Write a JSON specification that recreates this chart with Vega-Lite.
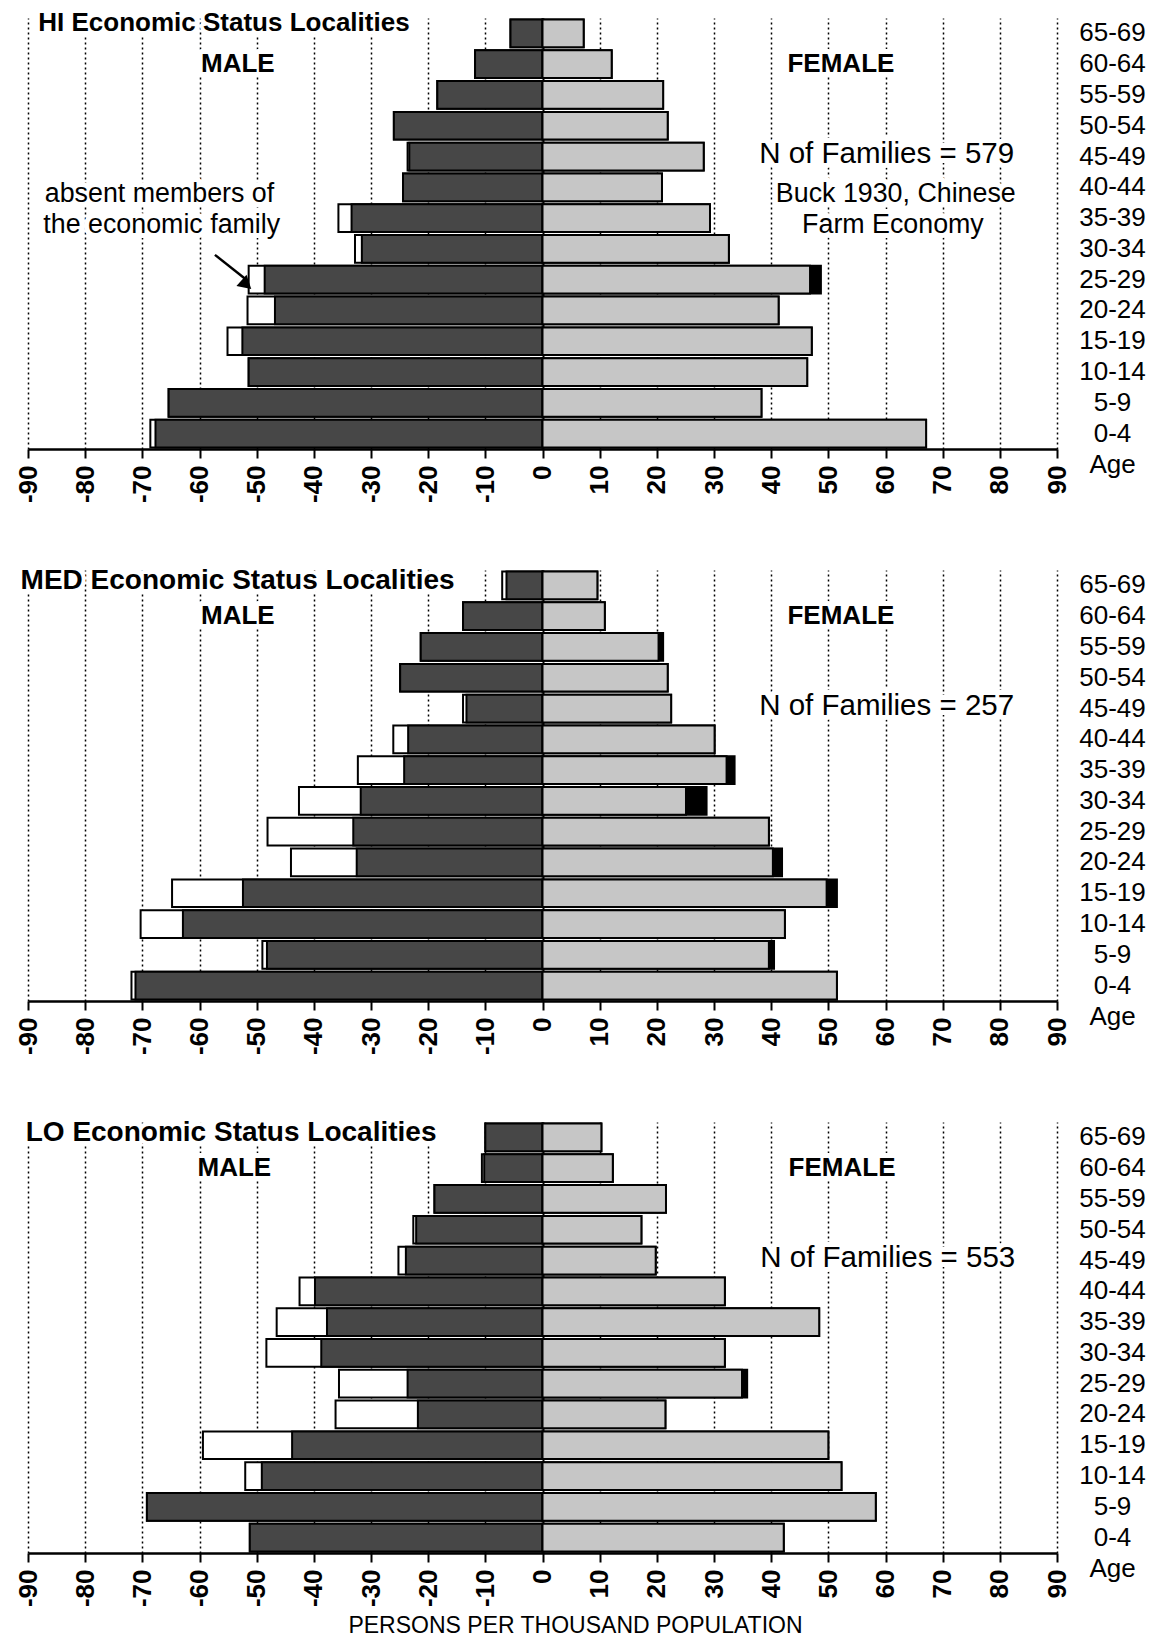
{
  "$schema": "https://vega.github.io/schema/vega-lite/v6.json",
  "padding": {"left": 15, "top": 10, "right": 0, "bottom": 0},
  "background": "white",
  "config": {"view": {"stroke": null}},
  "datasets": {
    "bars": [
      {"p": "HI", "age": "65-69", "mt": -5.6, "mp": -5.6, "fp": 7.2, "ft": 7.2},
      {"p": "HI", "age": "60-64", "mt": -11.8, "mp": -11.8, "fp": 12.1, "ft": 12.1},
      {"p": "HI", "age": "55-59", "mt": -18.4, "mp": -18.4, "fp": 21.1, "ft": 21.1},
      {"p": "HI", "age": "50-54", "mt": -26.0, "mp": -26.0, "fp": 21.9, "ft": 21.9},
      {"p": "HI", "age": "45-49", "mt": -23.6, "mp": -23.3, "fp": 28.2, "ft": 28.2},
      {"p": "HI", "age": "40-44", "mt": -24.4, "mp": -24.4, "fp": 20.9, "ft": 20.9},
      {"p": "HI", "age": "35-39", "mt": -35.7, "mp": -33.4, "fp": 29.3, "ft": 29.3},
      {"p": "HI", "age": "30-34", "mt": -32.8, "mp": -31.6, "fp": 32.6, "ft": 32.6},
      {"p": "HI", "age": "25-29", "mt": -51.4, "mp": -48.6, "fp": 46.8, "ft": 48.7},
      {"p": "HI", "age": "20-24", "mt": -51.6, "mp": -46.8, "fp": 41.3, "ft": 41.3},
      {"p": "HI", "age": "15-19", "mt": -55.1, "mp": -52.5, "fp": 47.1, "ft": 47.1},
      {"p": "HI", "age": "10-14", "mt": -51.4, "mp": -51.4, "fp": 46.3, "ft": 46.3},
      {"p": "HI", "age": "5-9", "mt": -65.4, "mp": -65.4, "fp": 38.3, "ft": 38.3},
      {"p": "HI", "age": "0-4", "mt": -68.6, "mp": -67.7, "fp": 67.1, "ft": 67.1},
      {"p": "MED", "age": "65-69", "mt": -7.05, "mp": -6.3, "fp": 9.6, "ft": 9.6},
      {"p": "MED", "age": "60-64", "mt": -13.9, "mp": -13.9, "fp": 10.9, "ft": 10.9},
      {"p": "MED", "age": "55-59", "mt": -21.3, "mp": -21.3, "fp": 20.3, "ft": 21.1},
      {"p": "MED", "age": "50-54", "mt": -24.9, "mp": -24.9, "fp": 21.9, "ft": 21.9},
      {"p": "MED", "age": "45-49", "mt": -13.9, "mp": -13.3, "fp": 22.5, "ft": 22.5},
      {"p": "MED", "age": "40-44", "mt": -26.1, "mp": -23.5, "fp": 30.1, "ft": 30.1},
      {"p": "MED", "age": "35-39", "mt": -32.3, "mp": -24.2, "fp": 32.2, "ft": 33.6},
      {"p": "MED", "age": "30-34", "mt": -42.6, "mp": -31.8, "fp": 25.1, "ft": 28.7},
      {"p": "MED", "age": "25-29", "mt": -48.1, "mp": -33.1, "fp": 39.6, "ft": 39.6},
      {"p": "MED", "age": "20-24", "mt": -44.0, "mp": -32.5, "fp": 40.3, "ft": 41.9},
      {"p": "MED", "age": "15-19", "mt": -64.8, "mp": -52.4, "fp": 49.7, "ft": 51.5},
      {"p": "MED", "age": "10-14", "mt": -70.3, "mp": -62.9, "fp": 42.4, "ft": 42.4},
      {"p": "MED", "age": "5-9", "mt": -49.0, "mp": -48.2, "fp": 39.6, "ft": 40.5},
      {"p": "MED", "age": "0-4", "mt": -71.9, "mp": -71.2, "fp": 51.5, "ft": 51.5},
      {"p": "LO", "age": "65-69", "mt": -10.0, "mp": -10.0, "fp": 10.3, "ft": 10.3},
      {"p": "LO", "age": "60-64", "mt": -10.6, "mp": -10.2, "fp": 12.3, "ft": 12.3},
      {"p": "LO", "age": "55-59", "mt": -18.9, "mp": -18.9, "fp": 21.6, "ft": 21.6},
      {"p": "LO", "age": "50-54", "mt": -22.6, "mp": -22.1, "fp": 17.3, "ft": 17.3},
      {"p": "LO", "age": "45-49", "mt": -25.2, "mp": -23.9, "fp": 19.8, "ft": 19.8},
      {"p": "LO", "age": "40-44", "mt": -42.5, "mp": -39.8, "fp": 31.9, "ft": 31.9},
      {"p": "LO", "age": "35-39", "mt": -46.5, "mp": -37.7, "fp": 48.4, "ft": 48.4},
      {"p": "LO", "age": "30-34", "mt": -48.3, "mp": -38.7, "fp": 31.9, "ft": 31.9},
      {"p": "LO", "age": "25-29", "mt": -35.6, "mp": -23.6, "fp": 34.9, "ft": 35.8},
      {"p": "LO", "age": "20-24", "mt": -36.2, "mp": -21.8, "fp": 21.5, "ft": 21.5},
      {"p": "LO", "age": "15-19", "mt": -59.4, "mp": -43.8, "fp": 50.0, "ft": 50.0},
      {"p": "LO", "age": "10-14", "mt": -52.0, "mp": -49.1, "fp": 52.3, "ft": 52.3},
      {"p": "LO", "age": "5-9", "mt": -69.2, "mp": -69.2, "fp": 58.3, "ft": 58.3},
      {"p": "LO", "age": "0-4", "mt": -51.2, "mp": -51.2, "fp": 42.2, "ft": 42.2}
    ],
    "notes": [
      {"p": "HI", "k": "title", "age": "65-69", "v": -88.2, "label": "HI Economic Status Localities"},
      {"p": "HI", "k": "sex", "age": "60-64", "v": -53.3, "label": "MALE"},
      {"p": "HI", "k": "sex", "age": "60-64", "v": 52.2, "label": "FEMALE"},
      {"p": "HI", "k": "n", "age": "45-49", "v": 60.2, "label": "N of Families = 579"},
      {"p": "HI", "k": "note", "age": "40-44", "v": 61.8, "label": "Buck 1930, Chinese"},
      {"p": "HI", "k": "note", "age": "35-39", "v": 61.3, "label": "Farm Economy"},
      {"p": "HI", "k": "note", "age": "40-44", "v": -67.0, "label": "absent members of"},
      {"p": "HI", "k": "note", "age": "35-39", "v": -66.6, "label": "the economic family"},
      {"p": "HI", "k": "arrow", "age": "30-34", "v": -57.3, "age2": "25-29", "v2": -51.8},
      {"p": "MED", "k": "title", "age": "65-69", "v": -91.3, "label": "MED Economic Status Localities"},
      {"p": "MED", "k": "sex", "age": "60-64", "v": -53.3, "label": "MALE"},
      {"p": "MED", "k": "sex", "age": "60-64", "v": 52.2, "label": "FEMALE"},
      {"p": "MED", "k": "n", "age": "45-49", "v": 60.2, "label": "N of Families = 257"},
      {"p": "LO", "k": "title", "age": "65-69", "v": -90.4, "label": "LO Economic Status Localities"},
      {"p": "LO", "k": "sex", "age": "60-64", "v": -53.9, "label": "MALE"},
      {"p": "LO", "k": "sex", "age": "60-64", "v": 52.4, "label": "FEMALE"},
      {"p": "LO", "k": "n", "age": "45-49", "v": 60.4, "label": "N of Families = 553"}
    ]
  },
  "vconcat": [
    {
      "width": 1029,
      "height": 431,
      "layer": [
        {
          "data": {"name": "bars"},
          "transform": [{"filter": "datum.p === 'HI'"}, {"fold": ["mt", "mp", "ft", "fp"], "as": ["part", "v"]}],
          "encoding": {
            "x": {"field": "v", "type": "quantitative", "title": null, "scale": {"domain": [-90, 90], "nice": false},
              "axis": {"values": [-90, -80, -70, -60, -50, -40, -30, -20, -10, 0, 10, 20, 30, 40, 50, 60, 70, 80, 90], "labelExpr": "datum.value < 0 ? '-' + abs(datum.value) : '' + datum.value", "labelAngle": -90, "labelFont": "Liberation Sans", "labelFontSize": 26, "labelFontWeight": "bold", "labelColor": "black", "labelPadding": 7, "labelFlush": false, "labelOverlap": false, "labelBound": false, "tickSize": 9, "tickWidth": 2, "tickColor": "black", "domainColor": "black", "domainWidth": 2.5, "grid": true, "gridColor": "black", "gridOpacity": 1, "gridDash": {"condition": {"test": "datum.value === 0", "value": [1, 0]}, "value": [2, 3]}, "gridWidth": {"condition": {"test": "datum.value === 0", "value": 2}, "value": 1.5}, "title": null}},
            "x2": {"datum": 0},
            "y": {"field": "age", "type": "nominal", "title": "Age", "scale": {"domain": ["65-69", "60-64", "55-59", "50-54", "45-49", "40-44", "35-39", "30-34", "25-29", "20-24", "15-19", "10-14", "5-9", "0-4"], "paddingInner": 0.1, "paddingOuter": 0.05},
              "axis": {"orient": "right", "domain": false, "ticks": false, "tickSize": 0, "labelAlign": "center", "labelPadding": 55, "labelFont": "Liberation Sans", "labelFontSize": 26, "labelColor": "black", "grid": false, "title": "Age", "titleAngle": 0, "titleX": 55, "titleY": 446, "titleAlign": "center", "titleBaseline": "middle", "titleFont": "Liberation Sans", "titleFontSize": 26, "titleFontWeight": "normal", "titleColor": "black"}}
          },
          "layer": [
            {"transform": [{"filter": "datum.part === 'mt'"}], "mark": {"type": "bar", "fill": "white", "stroke": "black", "strokeWidth": 2}},
            {"transform": [{"filter": "datum.part === 'mp'"}], "mark": {"type": "bar", "fill": "#474747", "stroke": "black", "strokeWidth": 2}},
            {"transform": [{"filter": "datum.part === 'ft'"}], "mark": {"type": "bar", "fill": "black", "stroke": "black", "strokeWidth": 2}},
            {"transform": [{"filter": "datum.part === 'fp'"}], "mark": {"type": "bar", "fill": "#c6c6c6", "stroke": "black", "strokeWidth": 2}}
          ]
        },
        {
          "data": {"name": "notes"},
          "transform": [{"filter": "datum.p === 'HI'"}],
          "encoding": {
            "x": {"field": "v", "type": "quantitative", "title": null, "scale": {"domain": [-90, 90], "nice": false}},
            "y": {"field": "age", "type": "nominal", "title": "Age", "scale": {"domain": ["65-69", "60-64", "55-59", "50-54", "45-49", "40-44", "35-39", "30-34", "25-29", "20-24", "15-19", "10-14", "5-9", "0-4"], "paddingInner": 0.1, "paddingOuter": 0.05}}
          },
          "layer": [
            {"transform": [{"filter": "datum.k === 'title'"}], "mark": {"type": "text", "align": "left", "baseline": "middle", "dy": -10, "font": "Liberation Sans", "fontSize": 26, "fontWeight": "bold", "fill": "white", "stroke": "white", "strokeWidth": 8, "strokeJoin": "round"}, "encoding": {"text": {"field": "label"}}},
            {"transform": [{"filter": "datum.k === 'title'"}], "mark": {"type": "text", "align": "left", "baseline": "middle", "dy": -10, "font": "Liberation Sans", "fontSize": 26, "fontWeight": "bold", "fill": "black"}, "encoding": {"text": {"field": "label"}}},
            {"transform": [{"filter": "datum.k === 'sex'"}], "mark": {"type": "text", "align": "center", "baseline": "middle", "font": "Liberation Sans", "fontSize": 26, "fontWeight": "bold", "fill": "white", "stroke": "white", "strokeWidth": 10, "strokeJoin": "round"}, "encoding": {"text": {"field": "label"}}},
            {"transform": [{"filter": "datum.k === 'sex'"}], "mark": {"type": "text", "align": "center", "baseline": "middle", "font": "Liberation Sans", "fontSize": 26, "fontWeight": "bold", "fill": "black"}, "encoding": {"text": {"field": "label"}}},
            {"transform": [{"filter": "datum.k === 'n'"}], "mark": {"type": "text", "align": "center", "baseline": "middle", "dy": -3, "font": "Liberation Sans", "fontSize": 29.5, "fill": "white", "stroke": "white", "strokeWidth": 10, "strokeJoin": "round"}, "encoding": {"text": {"field": "label"}}},
            {"transform": [{"filter": "datum.k === 'n'"}], "mark": {"type": "text", "align": "center", "baseline": "middle", "dy": -3, "font": "Liberation Sans", "fontSize": 29.5, "fill": "black"}, "encoding": {"text": {"field": "label"}}},
            {"transform": [{"filter": "datum.k === 'note'"}], "mark": {"type": "text", "align": "center", "baseline": "middle", "dy": 7, "font": "Liberation Sans", "fontSize": 26.8, "fill": "white", "stroke": "white", "strokeWidth": 10, "strokeJoin": "round"}, "encoding": {"text": {"field": "label"}}},
            {"transform": [{"filter": "datum.k === 'note'"}], "mark": {"type": "text", "align": "center", "baseline": "middle", "dy": 7, "font": "Liberation Sans", "fontSize": 26.8, "fill": "black"}, "encoding": {"text": {"field": "label"}}},
            {"transform": [{"filter": "datum.k === 'arrow'"}], "mark": {"type": "rule", "color": "black", "strokeWidth": 2.5, "yOffset": 6}, "encoding": {"x2": {"field": "v2"}, "y2": {"field": "age2"}}},
            {"transform": [{"filter": "datum.k === 'arrow'"}], "mark": {"type": "point", "shape": "triangle-up", "angle": 132, "size": 230, "filled": true, "color": "black", "opacity": 1, "yOffset": 5},
              "encoding": {"x": {"field": "v2", "type": "quantitative", "title": null, "scale": {"domain": [-90, 90], "nice": false}}, "y": {"field": "age2", "type": "nominal", "title": "Age", "scale": {"domain": ["65-69", "60-64", "55-59", "50-54", "45-49", "40-44", "35-39", "30-34", "25-29", "20-24", "15-19", "10-14", "5-9", "0-4"], "paddingInner": 0.1, "paddingOuter": 0.05}}}}
          ]
        }
      ]
    },
    {
      "width": 1029,
      "height": 431,
      "layer": [
        {
          "data": {"name": "bars"},
          "transform": [{"filter": "datum.p === 'MED'"}, {"fold": ["mt", "mp", "ft", "fp"], "as": ["part", "v"]}],
          "encoding": {
            "x": {"field": "v", "type": "quantitative", "title": null, "scale": {"domain": [-90, 90], "nice": false},
              "axis": {"values": [-90, -80, -70, -60, -50, -40, -30, -20, -10, 0, 10, 20, 30, 40, 50, 60, 70, 80, 90], "labelExpr": "datum.value < 0 ? '-' + abs(datum.value) : '' + datum.value", "labelAngle": -90, "labelFont": "Liberation Sans", "labelFontSize": 26, "labelFontWeight": "bold", "labelColor": "black", "labelPadding": 7, "labelFlush": false, "labelOverlap": false, "labelBound": false, "tickSize": 9, "tickWidth": 2, "tickColor": "black", "domainColor": "black", "domainWidth": 2.5, "grid": true, "gridColor": "black", "gridOpacity": 1, "gridDash": {"condition": {"test": "datum.value === 0", "value": [1, 0]}, "value": [2, 3]}, "gridWidth": {"condition": {"test": "datum.value === 0", "value": 2}, "value": 1.5}, "title": null}},
            "x2": {"datum": 0},
            "y": {"field": "age", "type": "nominal", "title": "Age", "scale": {"domain": ["65-69", "60-64", "55-59", "50-54", "45-49", "40-44", "35-39", "30-34", "25-29", "20-24", "15-19", "10-14", "5-9", "0-4"], "paddingInner": 0.1, "paddingOuter": 0.05},
              "axis": {"orient": "right", "domain": false, "ticks": false, "tickSize": 0, "labelAlign": "center", "labelPadding": 55, "labelFont": "Liberation Sans", "labelFontSize": 26, "labelColor": "black", "grid": false, "title": "Age", "titleAngle": 0, "titleX": 55, "titleY": 446, "titleAlign": "center", "titleBaseline": "middle", "titleFont": "Liberation Sans", "titleFontSize": 26, "titleFontWeight": "normal", "titleColor": "black"}}
          },
          "layer": [
            {"transform": [{"filter": "datum.part === 'mt'"}], "mark": {"type": "bar", "fill": "white", "stroke": "black", "strokeWidth": 2}},
            {"transform": [{"filter": "datum.part === 'mp'"}], "mark": {"type": "bar", "fill": "#474747", "stroke": "black", "strokeWidth": 2}},
            {"transform": [{"filter": "datum.part === 'ft'"}], "mark": {"type": "bar", "fill": "black", "stroke": "black", "strokeWidth": 2}},
            {"transform": [{"filter": "datum.part === 'fp'"}], "mark": {"type": "bar", "fill": "#c6c6c6", "stroke": "black", "strokeWidth": 2}}
          ]
        },
        {
          "data": {"name": "notes"},
          "transform": [{"filter": "datum.p === 'MED'"}],
          "encoding": {
            "x": {"field": "v", "type": "quantitative", "title": null, "scale": {"domain": [-90, 90], "nice": false}},
            "y": {"field": "age", "type": "nominal", "title": "Age", "scale": {"domain": ["65-69", "60-64", "55-59", "50-54", "45-49", "40-44", "35-39", "30-34", "25-29", "20-24", "15-19", "10-14", "5-9", "0-4"], "paddingInner": 0.1, "paddingOuter": 0.05}},
            "text": {"field": "label"}
          },
          "layer": [
            {"transform": [{"filter": "datum.k === 'title'"}], "mark": {"type": "text", "align": "left", "baseline": "middle", "dy": -4, "font": "Liberation Sans", "fontSize": 28, "fontWeight": "bold", "fill": "white", "stroke": "white", "strokeWidth": 8, "strokeJoin": "round"}},
            {"transform": [{"filter": "datum.k === 'title'"}], "mark": {"type": "text", "align": "left", "baseline": "middle", "dy": -4, "font": "Liberation Sans", "fontSize": 28, "fontWeight": "bold", "fill": "black"}},
            {"transform": [{"filter": "datum.k === 'sex'"}], "mark": {"type": "text", "align": "center", "baseline": "middle", "font": "Liberation Sans", "fontSize": 26, "fontWeight": "bold", "fill": "white", "stroke": "white", "strokeWidth": 10, "strokeJoin": "round"}},
            {"transform": [{"filter": "datum.k === 'sex'"}], "mark": {"type": "text", "align": "center", "baseline": "middle", "font": "Liberation Sans", "fontSize": 26, "fontWeight": "bold", "fill": "black"}},
            {"transform": [{"filter": "datum.k === 'n'"}], "mark": {"type": "text", "align": "center", "baseline": "middle", "dy": -3, "font": "Liberation Sans", "fontSize": 29.5, "fill": "white", "stroke": "white", "strokeWidth": 10, "strokeJoin": "round"}},
            {"transform": [{"filter": "datum.k === 'n'"}], "mark": {"type": "text", "align": "center", "baseline": "middle", "dy": -3, "font": "Liberation Sans", "fontSize": 29.5, "fill": "black"}}
          ]
        }
      ]
    },
    {
      "width": 1029,
      "height": 431,
      "layer": [
        {
          "data": {"name": "bars"},
          "transform": [{"filter": "datum.p === 'LO'"}, {"fold": ["mt", "mp", "ft", "fp"], "as": ["part", "v"]}],
          "encoding": {
            "x": {"field": "v", "type": "quantitative", "title": "PERSONS PER THOUSAND POPULATION", "scale": {"domain": [-90, 90], "nice": false},
              "axis": {"values": [-90, -80, -70, -60, -50, -40, -30, -20, -10, 0, 10, 20, 30, 40, 50, 60, 70, 80, 90], "labelExpr": "datum.value < 0 ? '-' + abs(datum.value) : '' + datum.value", "labelAngle": -90, "labelFont": "Liberation Sans", "labelFontSize": 26, "labelFontWeight": "bold", "labelColor": "black", "labelPadding": 7, "labelFlush": false, "labelOverlap": false, "labelBound": false, "tickSize": 9, "tickWidth": 2, "tickColor": "black", "domainColor": "black", "domainWidth": 2.5, "grid": true, "gridColor": "black", "gridOpacity": 1, "gridDash": {"condition": {"test": "datum.value === 0", "value": [1, 0]}, "value": [2, 3]}, "gridWidth": {"condition": {"test": "datum.value === 0", "value": 2}, "value": 1.5},
                "title": "PERSONS PER THOUSAND POPULATION", "titleX": 547, "titleY": 72, "titleAlign": "center", "titleBaseline": "middle", "titleFont": "Liberation Sans", "titleFontSize": 23, "titleFontWeight": "normal", "titleColor": "black"}},
            "x2": {"datum": 0},
            "y": {"field": "age", "type": "nominal", "title": "Age", "scale": {"domain": ["65-69", "60-64", "55-59", "50-54", "45-49", "40-44", "35-39", "30-34", "25-29", "20-24", "15-19", "10-14", "5-9", "0-4"], "paddingInner": 0.1, "paddingOuter": 0.05},
              "axis": {"orient": "right", "domain": false, "ticks": false, "tickSize": 0, "labelAlign": "center", "labelPadding": 55, "labelFont": "Liberation Sans", "labelFontSize": 26, "labelColor": "black", "grid": false, "title": "Age", "titleAngle": 0, "titleX": 55, "titleY": 446, "titleAlign": "center", "titleBaseline": "middle", "titleFont": "Liberation Sans", "titleFontSize": 26, "titleFontWeight": "normal", "titleColor": "black"}}
          },
          "layer": [
            {"transform": [{"filter": "datum.part === 'mt'"}], "mark": {"type": "bar", "fill": "white", "stroke": "black", "strokeWidth": 2}},
            {"transform": [{"filter": "datum.part === 'mp'"}], "mark": {"type": "bar", "fill": "#474747", "stroke": "black", "strokeWidth": 2}},
            {"transform": [{"filter": "datum.part === 'ft'"}], "mark": {"type": "bar", "fill": "black", "stroke": "black", "strokeWidth": 2}},
            {"transform": [{"filter": "datum.part === 'fp'"}], "mark": {"type": "bar", "fill": "#c6c6c6", "stroke": "black", "strokeWidth": 2}}
          ]
        },
        {
          "data": {"name": "notes"},
          "transform": [{"filter": "datum.p === 'LO'"}],
          "encoding": {
            "x": {"field": "v", "type": "quantitative", "title": "PERSONS PER THOUSAND POPULATION", "scale": {"domain": [-90, 90], "nice": false}},
            "y": {"field": "age", "type": "nominal", "title": "Age", "scale": {"domain": ["65-69", "60-64", "55-59", "50-54", "45-49", "40-44", "35-39", "30-34", "25-29", "20-24", "15-19", "10-14", "5-9", "0-4"], "paddingInner": 0.1, "paddingOuter": 0.05}},
            "text": {"field": "label"}
          },
          "layer": [
            {"transform": [{"filter": "datum.k === 'title'"}], "mark": {"type": "text", "align": "left", "baseline": "middle", "dy": -4, "font": "Liberation Sans", "fontSize": 28, "fontWeight": "bold", "fill": "white", "stroke": "white", "strokeWidth": 8, "strokeJoin": "round"}},
            {"transform": [{"filter": "datum.k === 'title'"}], "mark": {"type": "text", "align": "left", "baseline": "middle", "dy": -4, "font": "Liberation Sans", "fontSize": 28, "fontWeight": "bold", "fill": "black"}},
            {"transform": [{"filter": "datum.k === 'sex'"}], "mark": {"type": "text", "align": "center", "baseline": "middle", "font": "Liberation Sans", "fontSize": 26, "fontWeight": "bold", "fill": "white", "stroke": "white", "strokeWidth": 10, "strokeJoin": "round"}},
            {"transform": [{"filter": "datum.k === 'sex'"}], "mark": {"type": "text", "align": "center", "baseline": "middle", "font": "Liberation Sans", "fontSize": 26, "fontWeight": "bold", "fill": "black"}},
            {"transform": [{"filter": "datum.k === 'n'"}], "mark": {"type": "text", "align": "center", "baseline": "middle", "dy": -3, "font": "Liberation Sans", "fontSize": 29.5, "fill": "white", "stroke": "white", "strokeWidth": 10, "strokeJoin": "round"}},
            {"transform": [{"filter": "datum.k === 'n'"}], "mark": {"type": "text", "align": "center", "baseline": "middle", "dy": -3, "font": "Liberation Sans", "fontSize": 29.5, "fill": "black"}}
          ]
        }
      ]
    }
  ],
  "spacing": 121,
  "bounds": "flush"
}
